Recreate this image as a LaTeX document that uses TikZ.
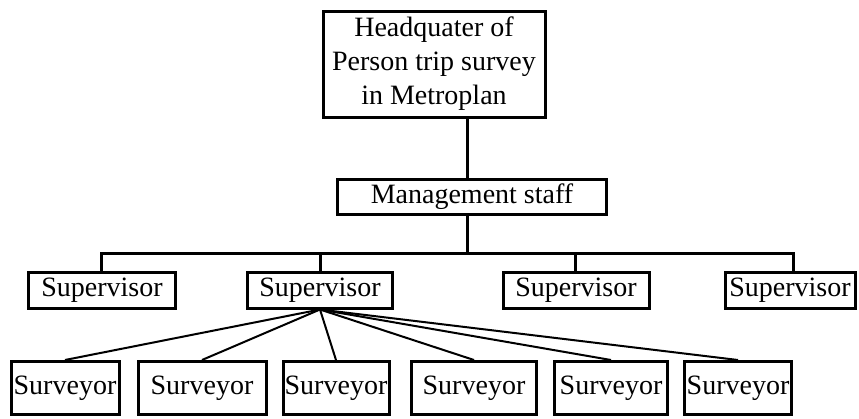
\documentclass[tikz,border=0pt]{standalone}
\usepackage{fontspec}
\setmainfont{Liberation Serif}
\begin{document}
\begin{tikzpicture}[x=1pt,y=-1pt,
        box/.style={draw,line width=3pt,inner sep=0pt,
            font=\fontsize{28}{34}\selectfont},
        link/.style={line width=3pt},
        fan/.style={line width=2pt}]
        \useasboundingbox (0,0) rectangle (859,418);
        %% headquarter and management staff
        \node[box,align=center,minimum width=222pt,minimum height=106pt]
            (hq) at (434,64) {Headquater of\\Person trip survey\\in Metroplan};
        \node[box,minimum width=269pt,minimum height=35pt]
            (staff) at (472,197) {Management staff};
        \coordinate (trunk) at (467,253);
        \draw[link] (hq.south -| trunk) -- (staff.north -| trunk);
        \draw[link] (staff.south -| trunk) -- (trunk);
        %% supervisors
        \foreach \n/\x/\w in {1/102/147,2/320/145,3/576/146,4/790/130}
            \node[box,minimum width=\w pt,minimum height=36pt]
                (sup\n) at (\x,290) {Supervisor};
        \draw[link] (sup1.north -| 101,0) |- (trunk) -| (sup4.north -| 793,0);
        \foreach \n/\x in {2/320,3/575}
            \draw[link] (\x,253) -- (sup\n.north -| \x,0);
        %% surveyors
        \foreach \n/\x/\w in {1/65/108,2/202/128,3/336/106,4/474/125,5/611/113,6/738/107}
            \node[box,minimum width=\w pt,minimum height=53pt]
                (srv\n) at (\x,388) {Surveyor};
        \foreach \n in {1,...,6}
            \draw[fan] (sup2.south) -- (srv\n.north);
    \end{tikzpicture}
\end{document}
